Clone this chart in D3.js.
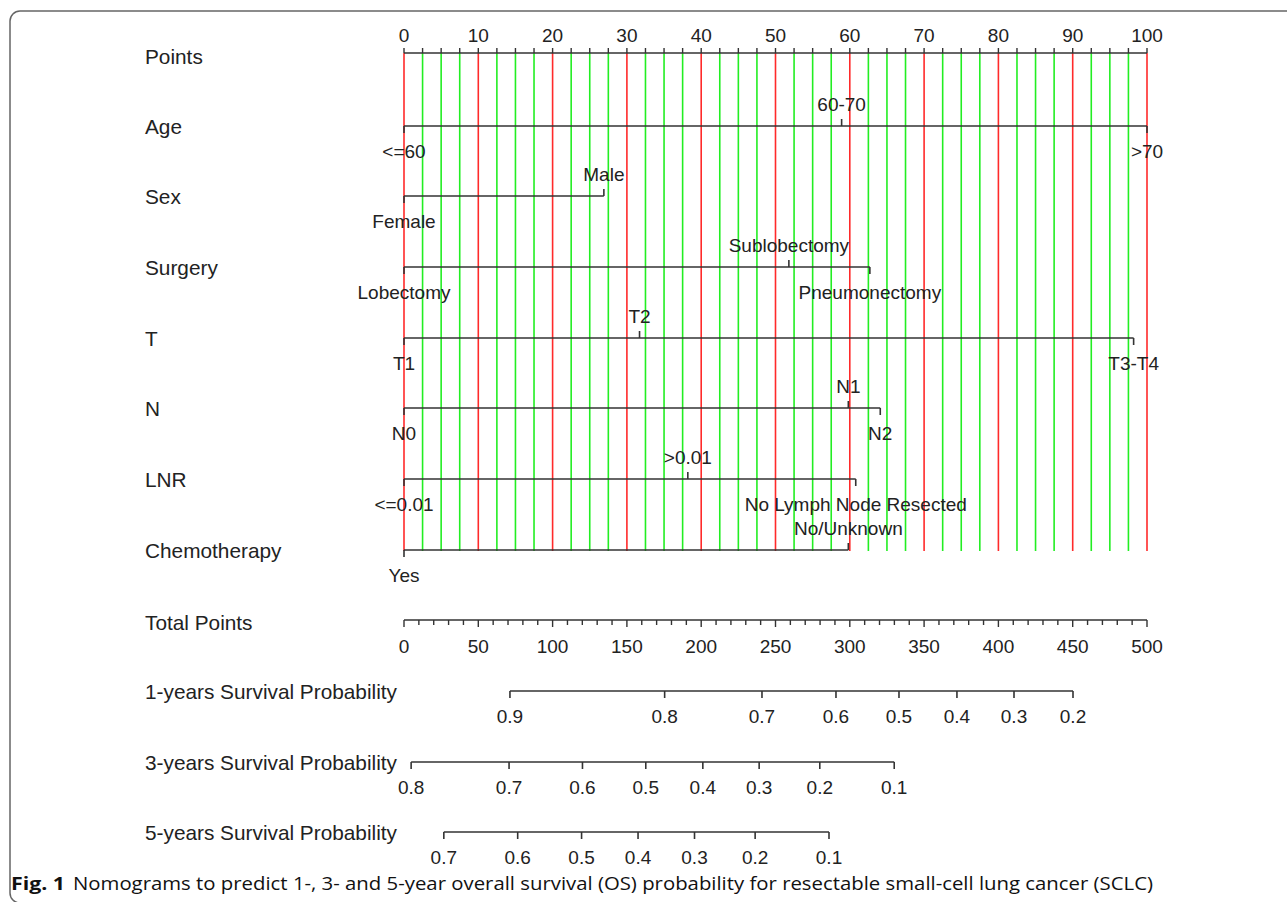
<!DOCTYPE html>
<html>
<head>
<meta charset="utf-8">
<script src="https://cdn.jsdelivr.net/npm/d3@7"></script>
<style>
  html, body { margin: 0; padding: 0; background: #fff; }
  svg { display: block; }
</style>
</head>
<body>
<script>
// ---------------- DATA ----------------
const pointTickLabels = [0, 10, 20, 30, 40, 50, 60, 70, 80, 90, 100];
const totalTickLabels = [0, 50, 100, 150, 200, 250, 300, 350, 400, 450, 500];

const variables = ["Age", "Sex", "Surgery", "T", "N", "LNR", "Chemotherapy"];
const ageLevels = ["<=60", "60-70", ">70"];
const agePoints = [0, 58.9, 100];
const sexLevels = ["Female", "Male"];
const sexPoints = [0, 26.9];
const surgeryLevels = ["Lobectomy", "Sublobectomy", "Pneumonectomy"];
const surgeryPoints = [0, 51.8, 62.7];
const tLevels = ["T1", "T2", "T3-T4"];
const tPoints = [0, 31.7, 98.2];
const nLevels = ["N0", "N1", "N2"];
const nPoints = [0, 59.8, 64.1];
const lnrLevels = ["<=0.01", ">0.01", "No Lymph Node Resected"];
const lnrPoints = [0, 38.2, 60.8];
const chemoLevels = ["Yes", "No/Unknown"];
const chemoPoints = [0, 59.8];

const survLabels = ["1-years Survival Probability", "3-years Survival Probability", "5-years Survival Probability"];
const surv1Probs = ["0.9", "0.8", "0.7", "0.6", "0.5", "0.4", "0.3", "0.2"];
const surv1Total = [71.3, 175.4, 240.9, 290.7, 333.1, 372.1, 410.5, 450.2];
const surv3Probs = ["0.8", "0.7", "0.6", "0.5", "0.4", "0.3", "0.2", "0.1"];
const surv3Total = [4.8, 70.7, 120.1, 162.7, 201.1, 239.0, 279.8, 329.9];
const surv5Probs = ["0.7", "0.6", "0.5", "0.4", "0.3", "0.2", "0.1"];
const surv5Total = [26.8, 76.5, 119.5, 157.5, 195.5, 236.3, 286.0];

const captionBold = "Fig. 1";
const captionText = "Nomograms to predict 1-, 3- and 5-year overall survival (OS) probability for resectable small-cell lung cancer (SCLC)";

// ---------------- LAYOUT ----------------
const W = 1287, H = 902;
const FONT = "'Liberation Sans', Arial, sans-serif";
const INK = "#222";
const LINE = "#333";

const svg = d3.select("body").append("svg").attr("width", W).attr("height", H);

// border (rounded frame, cut at right and bottom)
svg.append("rect")
  .attr("x", 10).attr("y", 11).attr("width", W + 20).attr("height", 892)
  .attr("rx", 10).attr("ry", 10)
  .attr("fill", "none").attr("stroke", "#666").attr("stroke-width", 1.5);

const x = d3.scaleLinear().domain([0, 100]).range([404, 1147]);
const xt = d3.scaleLinear().domain([0, 500]).range([404, 1147]);

const pointsY = 53;
const rowY = [126, 196, 267, 338, 408, 479, 550];
const totalY = 620;
const survY = [691, 762, 832];
const labelX = 145;

// vertical grid lines
const grid = d3.range(0, 100.001, 2.5);
svg.append("g").selectAll("line").data(grid).join("line")
  .attr("x1", d => x(d)).attr("x2", d => x(d))
  .attr("y1", pointsY).attr("y2", 551)
  .attr("stroke", d => (Math.abs(d % 10) < 1e-6 ? "#ff2a2a" : "#22ee22"))
  .attr("stroke-width", 1.6);

// Points axis (ticks up, labels above)
const gp = svg.append("g");
gp.append("line").attr("x1", x(0)).attr("x2", x(100)).attr("y1", pointsY).attr("y2", pointsY)
  .attr("stroke", LINE).attr("stroke-width", 1.6);
gp.selectAll(".mt").data(grid).join("line")
  .attr("x1", d => x(d)).attr("x2", d => x(d))
  .attr("y1", pointsY).attr("y2", pointsY - 5)
  .attr("stroke", LINE).attr("stroke-width", 1.4);
gp.selectAll("text").data(pointTickLabels).join("text")
  .attr("x", d => x(d)).attr("y", 35).attr("dy", "0.35em")
  .attr("text-anchor", "middle")
  .attr("font-family", FONT).attr("font-size", 19).attr("fill", INK)
  .text(d => d);

// left labels
const leftLabels = ["Points"].concat(variables, ["Total Points"], survLabels);
const leftY = [pointsY + 4].concat(rowY.map(d => d + 1), [totalY + 3], survY.map(d => d + 1));
svg.append("g").selectAll("text").data(leftLabels).join("text")
  .attr("x", labelX).attr("y", (d, i) => leftY[i]).attr("dy", "0.35em")
  .attr("font-family", FONT).attr("font-size", 20.8).attr("fill", INK)
  .text(d => d);

// variable rows
const rowLevels = [ageLevels, sexLevels, surgeryLevels, tLevels, nLevels, lnrLevels, chemoLevels];
const rowPoints = [agePoints, sexPoints, surgeryPoints, tPoints, nPoints, lnrPoints, chemoPoints];

rowLevels.forEach((levels, r) => {
  const pts = rowPoints[r];
  const y = rowY[r];
  const g = svg.append("g");
  g.append("line")
    .attr("x1", x(d3.min(pts))).attr("x2", x(d3.max(pts)))
    .attr("y1", y).attr("y2", y)
    .attr("stroke", LINE).attr("stroke-width", 1.6);
  const items = levels.map((l, i) => ({ label: l, p: pts[i], above: i % 2 === 1 }));
  g.selectAll("line.t").data(items).join("line")
    .attr("x1", d => x(d.p)).attr("x2", d => x(d.p))
    .attr("y1", y).attr("y2", d => d.above ? y - 7 : y + 7)
    .attr("stroke", LINE).attr("stroke-width", 1.6);
  g.selectAll("text").data(items).join("text")
    .attr("x", d => x(d.p))
    .attr("y", d => d.above ? y - 21.5 : y + 25)
    .attr("dy", "0.35em")
    .attr("text-anchor", "middle")
    .attr("font-family", FONT).attr("font-size", 19).attr("fill", INK)
    .text(d => d.label);
});

// Total Points axis (ticks down)
const gt = svg.append("g");
gt.append("line").attr("x1", xt(0)).attr("x2", xt(500)).attr("y1", totalY).attr("y2", totalY)
  .attr("stroke", LINE).attr("stroke-width", 1.6);
gt.selectAll("line.m").data(d3.range(0, 500.001, 10)).join("line")
  .attr("x1", d => xt(d)).attr("x2", d => xt(d))
  .attr("y1", totalY).attr("y2", d => d % 50 === 0 ? totalY + 7 : totalY + 5)
  .attr("stroke", LINE).attr("stroke-width", 1.4);
gt.selectAll("text").data(totalTickLabels).join("text")
  .attr("x", d => xt(d)).attr("y", totalY + 26).attr("dy", "0.35em")
  .attr("text-anchor", "middle")
  .attr("font-family", FONT).attr("font-size", 19).attr("fill", INK)
  .text(d => d);

// survival axes
const survProbs = [surv1Probs, surv3Probs, surv5Probs];
const survTotals = [surv1Total, surv3Total, surv5Total];
survProbs.forEach((probs, s) => {
  const tot = survTotals[s];
  const y = survY[s];
  const g = svg.append("g");
  g.append("line")
    .attr("x1", xt(d3.min(tot))).attr("x2", xt(d3.max(tot)))
    .attr("y1", y).attr("y2", y)
    .attr("stroke", LINE).attr("stroke-width", 1.6);
  const items = probs.map((p, i) => ({ label: p, t: tot[i] }));
  g.selectAll("line.t").data(items).join("line")
    .attr("x1", d => xt(d.t)).attr("x2", d => xt(d.t))
    .attr("y1", y).attr("y2", y + 7)
    .attr("stroke", LINE).attr("stroke-width", 1.6);
  g.selectAll("text").data(items).join("text")
    .attr("x", d => xt(d.t)).attr("y", y + 25).attr("dy", "0.35em")
    .attr("text-anchor", "middle")
    .attr("font-family", FONT).attr("font-size", 19).attr("fill", INK)
    .text(d => d.label);
});

// caption
svg.append("text")
  .attr("x", 11).attr("y", 890)
  .attr("font-family", "'Open Sans', sans-serif").attr("font-weight", "bold")
  .attr("font-size", 18).attr("fill", "#111")
  .attr("textLength", 54).attr("lengthAdjust", "spacingAndGlyphs")
  .text(captionBold);
svg.append("text")
  .attr("x", 73).attr("y", 890)
  .attr("font-family", "'Open Sans', sans-serif")
  .attr("font-size", 18).attr("fill", "#111")
  .attr("textLength", 1080).attr("lengthAdjust", "spacingAndGlyphs")
  .text(captionText);
</script>
</body>
</html>
